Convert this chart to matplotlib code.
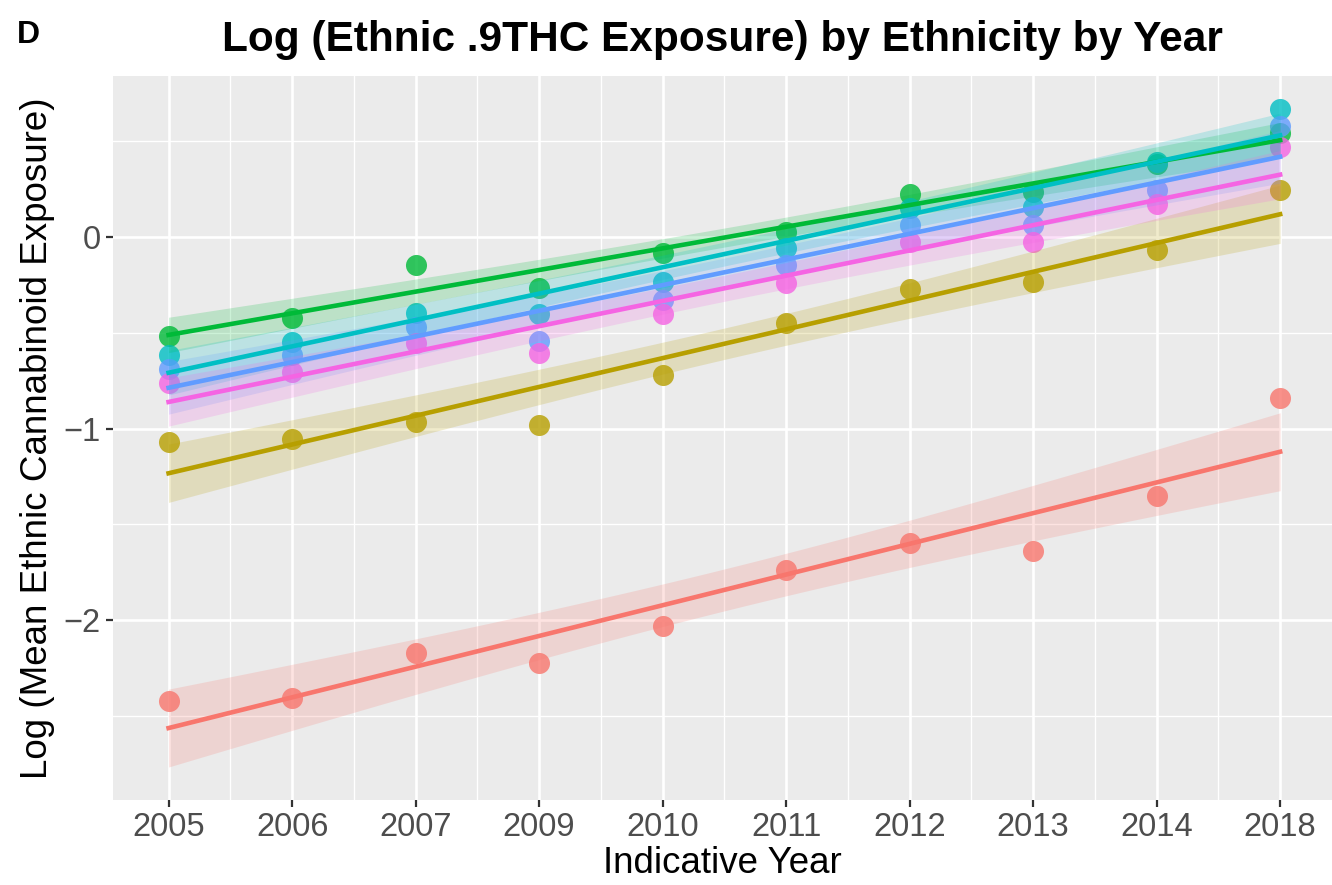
import numpy as np
import matplotlib
matplotlib.use("Agg")
import matplotlib.pyplot as plt

plt.rcParams['font.family'] = ['Liberation Sans', 'DejaVu Sans']

# Anni indicativi (asse discreto, posizioni equidistanti)
anni = ["2005", "2006", "2007", "2009", "2010", "2011", "2012", "2013", "2014", "2018"]

# Log dell'esposizione media per gruppo etnico
gruppo_rosso = [-2.423, -2.407, -2.172, -2.225, -2.031, -1.739, -1.598, -1.640, -1.352, -0.841]
gruppo_oliva = [-1.070, -1.055, -0.966, -0.982, -0.721, -0.449, -0.272, -0.235, -0.068, 0.245]
gruppo_verde = [-0.517, -0.423, -0.146, -0.266, -0.084, 0.026, 0.225, 0.235, 0.380, 0.543]
gruppo_ciano = [-0.616, -0.548, -0.397, -0.402, -0.235, -0.057, 0.151, 0.157, 0.390, 0.668]
gruppo_blu = [-0.689, -0.616, -0.470, -0.543, -0.329, -0.146, 0.063, 0.063, 0.245, 0.580]
gruppo_rosa = [-0.762, -0.705, -0.553, -0.606, -0.402, -0.240, -0.026, -0.026, 0.172, 0.470]

serie = [gruppo_rosso, gruppo_oliva, gruppo_verde, gruppo_ciano, gruppo_blu, gruppo_rosa]
colori = ["#F8766D", "#B79F00", "#00BA38", "#00BFC4", "#619CFF", "#F564E3"]

T_975_DF8 = 2.306  # quantile t di Student, 8 gradi di liberta'

fig = plt.figure(figsize=(13.32, 8.85), dpi=100)
ax = fig.add_axes([113 / 1332, 1 - 800 / 885, 1 - 113 / 1332, (800 - 76) / 885])
ax.set_facecolor("#EBEBEB")

x = np.arange(1, len(anni) + 1)

# Punti
for y, c in zip(serie, colori):
    ax.scatter(x, y, s=230, color=c, alpha=0.8, linewidths=0, zorder=3)

# Retta di regressione con intervallo di confidenza al 95%
xs = np.linspace(1, len(anni), 80)
for y, c in zip(serie, colori):
    y = np.array(y)
    b, a = np.polyfit(x, y, 1)
    res = y - (a + b * x)
    n = len(x)
    s = np.sqrt(np.sum(res ** 2) / (n - 2))
    sxx = np.sum((x - x.mean()) ** 2)
    se = s * np.sqrt(1 / n + (xs - x.mean()) ** 2 / sxx)
    yf = a + b * xs
    ax.fill_between(xs, yf - T_975_DF8 * se, yf + T_975_DF8 * se, color=c, alpha=0.2,
                    linewidth=0, zorder=4)
    ax.plot(xs, yf, color=c, linewidth=3.3, zorder=5)

ax.set_xlim(0.55, 10.42)
ax.set_ylim(-2.94, 0.841)

ax.set_xticks(x)
ax.set_xticklabels(anni)
ax.set_xticks(np.arange(1.5, 10, 1), minor=True)
ax.set_yticks([-2, -1, 0])
ax.set_yticklabels(["\u22122", "\u22121", "0"])
ax.set_yticks([-2.5, -1.5, -0.5, 0.5], minor=True)

ax.grid(which="major", color="white", linewidth=1.9)
ax.grid(which="minor", color="white", linewidth=0.95)
ax.set_axisbelow(True)
for sp in ax.spines.values():
    sp.set_visible(False)

ax.tick_params(axis="both", which="major", length=5, width=1.6, color="#333333",
               labelsize=23.5, labelcolor="#4D4D4D", pad=4)
ax.tick_params(axis="both", which="minor", length=0)

ax.set_xlabel("Indicative Year", fontsize=26.5, color="black", labelpad=2)
ax.set_ylabel("Log (Mean Ethnic Cannabinoid Exposure)", fontsize=26.5, color="black", labelpad=6)

fig.text((113 + 1332) / 2 / 1332, 1 - 40 / 885, "Log (Ethnic .9THC Exposure) by Ethnicity by Year",
         ha="center", va="center", fontsize=30.5, fontweight="bold")
fig.text(17 / 1332, 1 - 35 / 885, "D", ha="left", va="center", fontsize=23, fontweight="bold")

fig.savefig("out.png", dpi=100)
